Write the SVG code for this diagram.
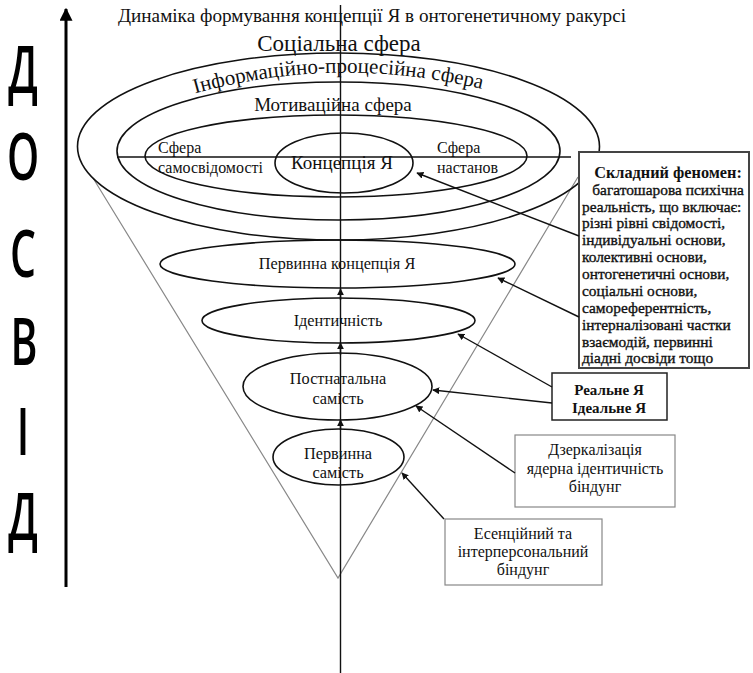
<svg xmlns="http://www.w3.org/2000/svg" width="753" height="673" viewBox="0 0 753 673">
<style>
.t{font-family:"Liberation Serif","Times New Roman",serif;fill:#111}
.big{font-family:"Open Sans","DejaVu Sans",sans-serif;font-size:66px;font-weight:600;fill:#000}
.e{fill:none;stroke:#111;stroke-width:1.6}
.g{fill:none;stroke:#888;stroke-width:1.2}
.c{fill:none;stroke:#111;stroke-width:1.4}
.body{stroke:#111;stroke-width:0.35}
</style>
<defs>
<marker id="ah" viewBox="0 0 10 10" refX="9" refY="5" markerWidth="7" markerHeight="7" markerUnits="userSpaceOnUse" orient="auto"><path d="M0,0 L10,5 L0,10 z" fill="#111"/></marker>
<marker id="big" viewBox="0 0 10 10" refX="9" refY="5" markerWidth="13" markerHeight="13" markerUnits="userSpaceOnUse" orient="auto"><path d="M0,0 L10,5 L0,10 z" fill="#000"/></marker>
<path id="arc" d="M183,97 Q335,51 494,92"/>
</defs>
<rect width="753" height="673" fill="#fff"/>

<g id="axis">
<line x1="66" y1="587" x2="66" y2="9" stroke="#000" stroke-width="3" marker-end="url(#big)"/>
<text class="big" transform="translate(23,93) scale(0.62,1)" text-anchor="middle">Д</text>
<text class="big" transform="translate(23,180) scale(0.62,1)" text-anchor="middle">О</text>
<text class="big" transform="translate(23,277) scale(0.62,1)" text-anchor="middle">С</text>
<text class="big" transform="translate(24,365) scale(0.62,1)" text-anchor="middle">В</text>
<text class="big" transform="translate(23,455) scale(0.62,1)" text-anchor="middle">І</text>
<text class="big" transform="translate(23,540) scale(0.62,1)" text-anchor="middle">Д</text>
</g>

<text id="title" class="t" x="372" y="22" font-size="19.2" text-anchor="middle">Динаміка формування концепції Я в онтогенетичному ракурсі</text>

<g id="cone">
<polyline class="g" points="93,178 338,578 578,177"/>
</g>

<g id="social">
<ellipse class="e" cx="338.5" cy="146.5" rx="261" ry="93.5"/>
<text class="t" x="339" y="51" font-size="23" text-anchor="middle">Соціальна сфера</text>
</g>
<g id="info">
<ellipse class="e" cx="338.5" cy="151" rx="221.5" ry="69"/>
<text class="t" font-size="21"><textPath href="#arc" startOffset="50%" text-anchor="middle">Інформаційно-процесійна сфера</textPath></text>
</g>
<g id="motiv">
<ellipse class="e" cx="336" cy="156" rx="191" ry="41"/>
<text class="t" x="333" y="111" font-size="19" text-anchor="middle">Мотиваційна сфера</text>
</g>
<line x1="117" y1="157" x2="571" y2="157" stroke="#111" stroke-width="1.4"/>
<g id="selfaware">
<text class="t" x="158" y="153" font-size="16">Сфера</text>
<text class="t" x="158" y="173" font-size="16">самосвідомості</text>
</g>
<g id="attitudes">
<text class="t" x="437" y="153" font-size="16">Сфера</text>
<text class="t" x="437" y="173" font-size="16">настанов</text>
</g>
<g id="concept">
<ellipse class="e" cx="344" cy="163" rx="69" ry="30"/>
<text class="t" x="342" y="169" font-size="19" text-anchor="middle">Концепція Я</text>
</g>

<g id="primary-concept">
<ellipse class="e" cx="337.5" cy="264" rx="177.5" ry="24"/>
<text class="t" x="337" y="269" font-size="16.3" text-anchor="middle">Первинна концепція Я</text>
</g>
<g id="identity">
<ellipse class="e" cx="338.5" cy="320.5" rx="136.5" ry="22.5"/>
<text class="t" x="338" y="326" font-size="16.3" text-anchor="middle">Ідентичність</text>
</g>
<g id="postnatal">
<ellipse class="e" cx="337.5" cy="386.5" rx="94.5" ry="33.5"/>
<text class="t" x="338" y="384" font-size="16.3" text-anchor="middle">Постнатальна</text>
<text class="t" x="338" y="404" font-size="16.3" text-anchor="middle">самість</text>
</g>
<g id="primary-self">
<ellipse class="e" cx="338.5" cy="457" rx="65.5" ry="28"/>
<text class="t" x="338" y="459" font-size="16.3" text-anchor="middle">Первинна</text>
<text class="t" x="338" y="478" font-size="16.3" text-anchor="middle">самість</text>
</g>

<g id="complex">
<rect x="579" y="152" width="170" height="216" fill="#fff" stroke="#444" stroke-width="2"/>
<text class="t" font-size="16.3" font-weight="bold" x="668" y="178" text-anchor="middle">Складний феномен:</text>
<g class="t body" font-size="15.4">
<text x="668" y="195" text-anchor="middle">багатошарова психічна</text>
<text x="582" y="212">реальність, що включає:</text>
<text x="582" y="228">різні рівні свідомості,</text>
<text x="582" y="245">індивідуальні основи,</text>
<text x="582" y="262">колективні основи,</text>
<text x="582" y="279">онтогенетичні основи,</text>
<text x="582" y="296">соціальні основи,</text>
<text x="582" y="313">самореферентність,</text>
<text x="582" y="330">інтерналізовані частки</text>
<text x="582" y="347">взаємодій, первинні</text>
<text x="582" y="363">діадні досвіди тощо</text>
</g>
</g>
<g id="realideal">
<rect x="552" y="373" width="115" height="47" fill="#fff" stroke="#222" stroke-width="1.5"/>
<text class="t" x="609" y="395" font-size="15" font-weight="bold" text-anchor="middle">Реальне Я</text>
<text class="t" x="609" y="413" font-size="15" font-weight="bold" text-anchor="middle">Ідеальне Я</text>
</g>
<g id="mirror">
<rect x="515" y="435" width="160" height="72" fill="#fff" stroke="#888" stroke-width="1.2"/>
<text class="t" x="595" y="455" font-size="16" text-anchor="middle">Дзеркалізація</text>
<text class="t" x="595" y="474" font-size="16" text-anchor="middle">ядерна ідентичність</text>
<text class="t" x="595" y="492" font-size="16" text-anchor="middle">біндунг</text>
</g>
<g id="essential">
<rect x="445" y="519" width="157" height="66" fill="#fff" stroke="#888" stroke-width="1.2"/>
<text class="t" x="523" y="539" font-size="16" text-anchor="middle">Есенційний та</text>
<text class="t" x="523" y="557" font-size="16" text-anchor="middle">інтерперсональний</text>
<text class="t" x="523" y="575" font-size="16" text-anchor="middle">біндунг</text>
</g>

<g id="connectors">
<line x1="340.5" y1="5" x2="340.5" y2="673" stroke="#111" stroke-width="1.4"/>
<line class="c" x1="340.5" y1="300" x2="340.5" y2="289" marker-end="url(#ah)"/>
<line class="c" x1="340.5" y1="355" x2="340.5" y2="343" marker-end="url(#ah)"/>
<line class="c" x1="340.5" y1="430" x2="340.5" y2="420" marker-end="url(#ah)"/>
<line class="c" x1="579" y1="236" x2="417" y2="173" marker-end="url(#ah)"/>
<line class="c" x1="579" y1="317" x2="498" y2="278" marker-end="url(#ah)"/>
<line class="c" x1="552" y1="387" x2="458" y2="334" marker-end="url(#ah)"/>
<line class="c" x1="552" y1="403" x2="433" y2="390" marker-end="url(#ah)"/>
<line class="c" x1="515" y1="473" x2="416" y2="406" marker-end="url(#ah)"/>
<line class="c" x1="444" y1="519" x2="402" y2="473" marker-end="url(#ah)"/>
</g>
</svg>
